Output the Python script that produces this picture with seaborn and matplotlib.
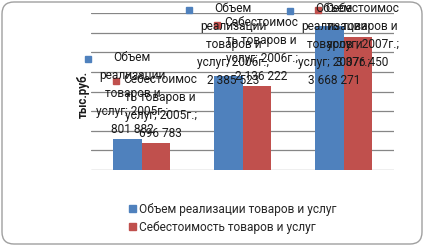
import numpy as np
import pandas as pd
import matplotlib
matplotlib.use("Agg")
import matplotlib.pyplot as plt
import seaborn as sns
from matplotlib.patches import FancyBboxPatch, Rectangle
from matplotlib.transforms import IdentityTransform

# ---- data ----
categories = ["2005г.", "2006г.", "2007г."]
series_names = ["Объем реализации товаров и услуг", "Себестоимость товаров и услуг"]
revenue = [801882, 2385523, 3668271]
cost = [696783, 2136222, 3376450]
label_name_lines = [["Объем", "реализации", "товаров и", "услуг;"],
                    ["Себестоимос", "ть товаров и", "услуг;"]]
y_label = "тыс.руб."
colors = ["#4F81BD", "#C0504D"]

sns.set_theme(style="white")
plt.rcParams["font.family"] = ["Roboto", "DejaVu Sans"]

W, H, DPI = 424, 246, 100
FS = 8.6
LS = 1.5
fig = plt.figure(figsize=(W / DPI, H / DPI), dpi=DPI)
fig.patch.set_facecolor("white")
ax = fig.add_axes([91 / W, (H - 170) / H, 303 / W, 157 / H])

df = pd.DataFrame({
    "cat": categories * 2,
    "series": [series_names[0]] * len(categories) + [series_names[1]] * len(categories),
    "value": revenue + cost,
})
sns.barplot(data=df, x="cat", y="value", hue="series", palette=colors,
            width=0.56, ax=ax, legend=False, saturation=1, linewidth=0, zorder=2)

ax.set_xlim(-0.5, len(categories) - 0.5)
ax.set_ylim(0, 4_000_000)
ax.set_yticks(np.arange(0, 4_000_001, 500_000))
ax.yaxis.grid(True, color="#868686", lw=0.9)
ax.xaxis.grid(False)
ax.set_axisbelow(True)
ax.tick_params(left=False, bottom=False, labelleft=False, labelbottom=False)
for sp in ax.spines.values():
    sp.set_visible(False)
ax.set_xlabel("")
ax.set_ylabel("")
ax.set_facecolor("none")

fig.text(83 / W, 1 - 95 / H, y_label, rotation=90, fontweight="bold",
         ha="center", va="center", fontsize=8.3, color="#1a1a1a")

handles = [Rectangle((0, 0), 1, 1, color=c) for c in colors]
fig.legend(handles, series_names, loc="upper left",
           bbox_to_anchor=(129 / W, 1 - 203 / H), frameon=False,
           handlelength=0.55, handleheight=0.55, handletextpad=0.3,
           labelspacing=0.4, fontsize=FS, borderpad=0, borderaxespad=0)

# ---- data labels (Excel style, with legend keys) ----
fig.canvas.draw()
renderer = fig.canvas.get_renderer()
series_vals = [revenue, cost]
for s_idx, cont in enumerate(ax.containers):
    vals = series_vals[s_idx]
    for c_idx, bar in enumerate(cont):
        xc = bar.get_x() + bar.get_width() / 2
        top = bar.get_height()
        px, py = ax.transData.transform((xc, top))
        name = label_name_lines[s_idx]
        lines = name[:-1] + [f"{name[-1]} {categories[c_idx]};",
                             f"{vals[c_idx]:,}".replace(",", " ")]
        t = fig.text(px + 5, py + 3, "\n".join(lines), ha="center", va="bottom",
                     multialignment="center", linespacing=LS,
                     transform=IdentityTransform(), fontsize=FS, color="#1a1a1a",
                     zorder=5)
        bb = t.get_window_extent(renderer)
        if bb.y1 > H - 2:
            x0, y0 = t.get_position()
            t.set_position((x0, y0 - (bb.y1 - (H - 2))))
            bb = t.get_window_extent(renderer)
        line_px = bb.height / len(lines)
        yc = bb.y1 - line_px / 2
        fig.add_artist(Rectangle((bb.x0 - 11, yc - 3), 6, 6,
                                 transform=IdentityTransform(),
                                 color=colors[s_idx], zorder=5))

fig.add_artist(FancyBboxPatch((2, 2), W - 4, H - 4,
                              boxstyle="round,pad=0,rounding_size=12",
                              transform=IdentityTransform(), fill=False,
                              ec="#a0a0a0", lw=1, zorder=10))

fig.savefig("out.png", dpi=DPI)
